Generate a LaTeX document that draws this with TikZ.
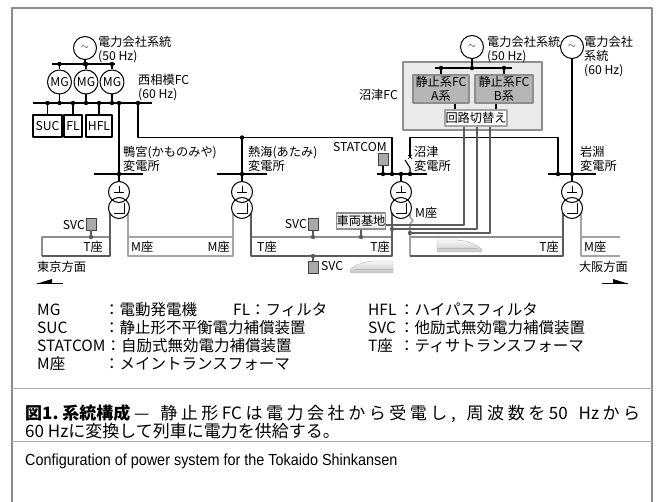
\documentclass[tikz,border=0pt]{standalone}
\usepackage{fontspec}
\setmainfont{Noto Sans CJK JP}
\newfontfamily\engfont{Liberation Sans}[FakeStretch=0.9]

\definecolor{framegray}{HTML}{8C8C8C}
\definecolor{tgray}{HTML}{5C5C5C}
\definecolor{mgray}{HTML}{A4A4A4}
\definecolor{edgegray}{HTML}{8E8E8E}
\definecolor{fcback}{HTML}{EAEAEA}
\definecolor{fcgray}{HTML}{B6B6B6}
\definecolor{compgray}{HTML}{A9A9A9}

\newcommand\lblfont{\fontsize{12.2}{14}\selectfont}
\newcommand\keyfont{\fontsize{15.5}{18}\selectfont}
\newcommand\capfont{\fontsize{17}{18.5}\selectfont}
% even glue between characters for the justified caption line
\def\spreadchars#1{\ifx\relax#1\else{#1}\hskip 0pt plus 1fil\expandafter\spreadchars\fi}

\begin{document}
\begin{tikzpicture}[x=1pt,y=-1pt,line join=round,
    bus/.style={line width=2.8pt},
    wire/.style={line width=1.1pt},
    feedT/.style={line width=1.6pt,draw=tgray},
    feedM/.style={line width=1.6pt,draw=mgray},
    feedtop/.style={line width=1.4pt,draw=edgegray},
    jn/.style={circle,fill,inner sep=0pt,minimum size=4.4pt},
    gen/.style={circle,draw,line width=1pt,minimum size=23pt,inner sep=0pt},
    mg/.style={circle,draw,line width=1pt,minimum size=24pt,inner sep=0pt,font=\lblfont},
    devbox/.style={draw,line width=1.2pt,minimum height=22pt,inner sep=0pt,font=\lblfont},
    comp/.style={draw=black!75,fill=compgray,line width=0.9pt,minimum width=10pt,minimum height=12pt,inner sep=0pt},
    fcunit/.style={draw=edgegray,fill=fcgray,line width=1.4pt,minimum width=56pt,minimum height=28pt,inner sep=0pt,align=center,font=\lblfont},
    lbl/.style={font=\lblfont,inner sep=0pt,anchor=base west,align=left},
    key/.style={font=\keyfont,inner sep=0pt,anchor=base west}]
  \useasboundingbox (0,0) rectangle (659,502);
  % frame and caption rules
  \draw[framegray,line width=1.1pt] (12,502) -- (12,8) -- (652,8) -- (652,502);
  \draw[framegray!70,line width=0.8pt] (12,388) -- (652,388) (12,441) -- (652,441);

  % Nishi-Sagami FC (multi-line labels sit on their last baseline)
  \node[gen] (gen50w) at (85,48) {$\sim$};
  \node[lbl] (gen50wtxt) at (98,60.5) {電力会社系統\\(50 Hz)};
  \node[mg] (mg1) at (59.5,82) {MG};
  \node[mg] (mg2) at (86,82) {MG};
  \node[mg] (mg3) at (112,82) {MG};
  \node[lbl] (nsfc) at (138,98.5) {西相模FC\\(60 Hz)};
  \node[devbox,minimum width=29pt] (suc) at (47.5,126) {SUC};
  \node[devbox,minimum width=18pt] (fl) at (73,126) {FL};
  \node[devbox,minimum width=26pt] (hfl) at (99,126) {HFL};
  \draw[bus] (52,64) -- (115,64)
             (33,103) -- (152,103);
  \draw[wire] (gen50w) -- (gen50w |- 0,64) node[jn] {}
              (mg1) -- (mg1 |- 0,64) node[jn] {}
              (mg2) -- (mg2 |- 0,64) node[jn] {}
              (mg3) -- (mg3 |- 0,64) node[jn] {}
              (mg1) -- (mg1 |- 0,103) node[jn] {}
              (mg2) -- (mg2 |- 0,103) node[jn] {}
              (mg3) -- (mg3 |- 0,103) node[jn] {}
              (suc) -- (suc |- 0,103) node[jn] {}
              (fl) -- (fl |- 0,103) node[jn] {}
              (hfl) -- (hfl |- 0,103) node[jn] {};

  % substation buses and the 60 Hz lines
  \draw[bus] (94,174) -- (143,174)
             (217,174) -- (267,174)
             (377,174) -- (427,174)
             (548,174) -- (596,174);
  \draw[line width=2pt] (119,103) node[jn] {} -- (119,174);
  \draw[wire] (138,103) node[jn] {} |- (392,137.5) -- (392,174) node[jn] {};
  \draw[wire] (242,137.5) node[jn] {} -- (242,174);
  \node[lbl] (kamotxt) at (123,170.5) {鴨宮(かものみや)\\変電所};
  \node[lbl] (atamitxt) at (248,170.5) {熱海(あたみ)\\変電所};
  \node[lbl] (numatxt) at (414,170.5) {沼津\\変電所};
  \node[lbl] (iwatxt) at (580,170.5) {岩淵\\変電所};

  % Numazu FC
  \node[draw=edgegray,fill=fcback,line width=1.1pt,minimum width=139pt,minimum height=68pt,inner sep=0pt] (numafc) at (472.5,96) {};
  \node[lbl,anchor=base east] (numafctxt) at (398,99.5) {沼津FC};
  \node[gen] (gen50e) at (472,47) {$\sim$};
  \node[lbl] (gen50etxt) at (487,60.5) {電力会社系統\\(50 Hz)};
  \node[fcunit] (fca) at (441,89) {静止系FC\\A系};
  \node[fcunit,minimum width=58pt] (fcb) at (504,89) {静止系FC\\B系};
  \node[draw=mgray,fill=white,line width=1.2pt,minimum width=62pt,minimum height=16pt,inner sep=0pt,font=\lblfont] (csw) at (476,118) {回路切替え};
  \draw[bus] (435,68) -- (512,68);
  \draw[wire] (gen50e) -- (gen50e |- 0,68) node[jn] {}
              (fca) -- (fca |- 0,68) node[jn] {}
              (fcb) -- (fcb |- 0,68) node[jn] {}
              (fca.south -| 455,0) -- (csw.north -| 455,0)
              (fcb.south -| 496,0) -- (csw.north -| 496,0);

  % Numazu substation: STATCOM and open switch
  \node[comp] (statcom) at (383,159.5) {};
  \node[lbl,anchor=base east] (statcomtxt) at (387,151.5) {STATCOM};
  \draw[wire] (statcom) -- (383,174) node[jn] {};
  \draw[wire] (410,174) node[jn] {} -- (410,168) -- (405,160);
  \draw[wire] (410,157) |- (558,137.5) -- (558,174) node[jn] {};
  \draw[line width=0.7pt] (408,155) -- (412,159) (408,159) -- (412,155);

  % Iwabuchi
  \node[gen] (gen60) at (572,47) {$\sim$};
  \node[lbl] (gen60txt) at (584,74.5) {電力会社\\系統\\(60 Hz)};
  \draw[wire] (gen60) -- (572,174);

  % feeding sections
  \draw[feedtop] (42,256) -- (42,237) -- (110,237)
                 (251,237) -- (392,237)
                 (410,237) -- (563,237);
  \draw[feedM] (128,213) |- (233,256) -- (233,213)
               (128,237) -- (233,237)
               (410,213) -- (410,217) -- (413,220.5) -- (410,224) -- (410,256)
               (581,213) |- (620,256) (581,237) -- (620,237);
  \draw[feedT] (110,213) |- (42,256)
               (251,213) |- (392,256) -- (392,213)
               (563,213) |- (410,256);

  % compensators and depot
  \node[comp] (svc1) at (91,224) {};
  \node[lbl,anchor=base east] (svc1txt) at (85,229.5) {SVC};
  \node[comp] (svc2) at (313,224.5) {};
  \node[lbl,anchor=base east] (svc2txt) at (307,229) {SVC};
  \node[comp] (svc3) at (313,267.5) {};
  \node[lbl] (svc3txt) at (321,271) {SVC};
  \node[draw=edgegray,fill=black!6,line width=1.5pt,minimum width=48pt,minimum height=16pt,inner sep=0pt,font=\lblfont] (depot) at (361,221) {車両基地};
  \draw[wire,tgray] (svc1) -- (91,237) node[jn] {}
                    (svc2) -- (313,237) node[jn] {}
                    (svc3) -- (313,256) node[jn] {}
                    (depot) -- (361,237) node[jn] {};
  \draw[wire,tgray] (csw.south -| 464,0) |- (depot.east |- 0,225)
                    (csw.south -| 477,0) |- (392,229) node[jn] {}
                    (csw.south -| 490,0) |- (410,233) node[jn] {};

  % transformers
  \foreach \x in {119,242,401,572}{
    \draw[wire] (\x,174) node[jn] {} -- (\x,182);
    \fill[white] (\x,192) circle (10.5pt) (\x,208) circle (10.5pt);
    \draw[line width=1pt] (\x,192) circle (10.5pt) (\x,208) circle (10.5pt);
    \draw[line width=0.9pt] (\x,186) -- (\x,192) (\x-5,192) -- (\x+5,192)
                            (\x-5,213) -- (\x+5,213) -- (\x+5,203.5);
  }

  % section labels
  \node[lbl,anchor=base east] (t1) at (103,251.5) {T座};
  \node[lbl] (m1) at (131,251.5) {M座};
  \node[lbl,anchor=base east] (m2) at (230,251.5) {M座};
  \node[lbl] (t2) at (257,251.5) {T座};
  \node[lbl,anchor=base east] (t3) at (390,251.5) {T座};
  \node[lbl] (m3) at (415,217.5) {M座};
  \node[lbl,anchor=base east] (t4) at (559,251.5) {T座};
  \node[lbl] (m4) at (584,251.5) {M座};

  % trains
  \shadedraw[top color=gray!5,bottom color=gray!45,draw=gray!60,line width=0.4pt]
    (393,261) -- (374,261) .. controls (362,261.5) and (353,266) .. (350,270.5) -- (351,273) -- (393,273) -- cycle;
  \draw[gray!55,line width=0.8pt] (355,269.5) -- (393,269.5);
  \shadedraw[top color=gray!5,bottom color=gray!45,draw=gray!60,line width=0.4pt]
    (437,240) -- (456,240) .. controls (468,240.5) and (477,245) .. (482,249.5) -- (481,252) -- (437,252) -- cycle;
  \draw[gray!55,line width=0.8pt] (437,248.5) -- (477,248.5);

  % directions
  \node[lbl] (tokyo) at (37,271.5) {東京方面};
  \draw[line width=1.8pt] (37,283.5) -- (63,283.5);
  \fill (36,284) -- (52,279) -- (52,284) -- cycle;
  \node[lbl,anchor=base east] (osaka) at (628,271.5) {大阪方面};
  \draw[line width=1.8pt] (602,283.5) -- (628,283.5);
  \fill (629,284) -- (613,279) -- (613,284) -- cycle;

  % key
  \node[key] (k1) at (37,315.7) {MG};
  \node[key] (k1d) at (104,315.7) {：電動発電機};
  \node[key] (k2) at (233,315.7) {FL：フィルタ};
  \node[key] (k3) at (368,315.7) {HFL};
  \node[key] (k3d) at (399,315.7) {：ハイパスフィルタ};
  \node[key] (k4) at (37,333.7) {SUC};
  \node[key] (k4d) at (104,333.7) {：静止形不平衡電力補償装置};
  \node[key] (k5) at (368,333.7) {SVC};
  \node[key] (k5d) at (399,333.7) {：他励式無効電力補償装置};
  \node[key] (k6) at (37,351.7) {STATCOM：自励式無効電力補償装置};
  \node[key] (k7) at (368,351.7) {T座};
  \node[key] (k7d) at (399,351.7) {：ティサトランスフォーマ};
  \node[key] (k8) at (37,369.7) {M座};
  \node[key] (k8d) at (104,369.7) {：メイントランスフォーマ};

  % caption
  \node[inner sep=0pt,anchor=base west,font=\capfont] (cap1) at (25,419.3)
    {\makebox[615pt][s]{{\bfseries 図1.\ 系統構成}\ \spreadchars —\ 静止形{FC}は電力会社から受電し,\ 周波数を{50}\ {Hz}から\relax\hskip 0pt plus -1fil}};
  \node[inner sep=0pt,anchor=base west,font=\capfont] (cap2) at (25,438) {60 Hzに変換して列車に電力を供給する。};
  \node[inner sep=0pt,anchor=base west,font=\engfont\fontsize{16}{18}\selectfont] (capen) at (25,466) {Configuration of power system for the Tokaido Shinkansen};
\end{tikzpicture}
\end{document}
